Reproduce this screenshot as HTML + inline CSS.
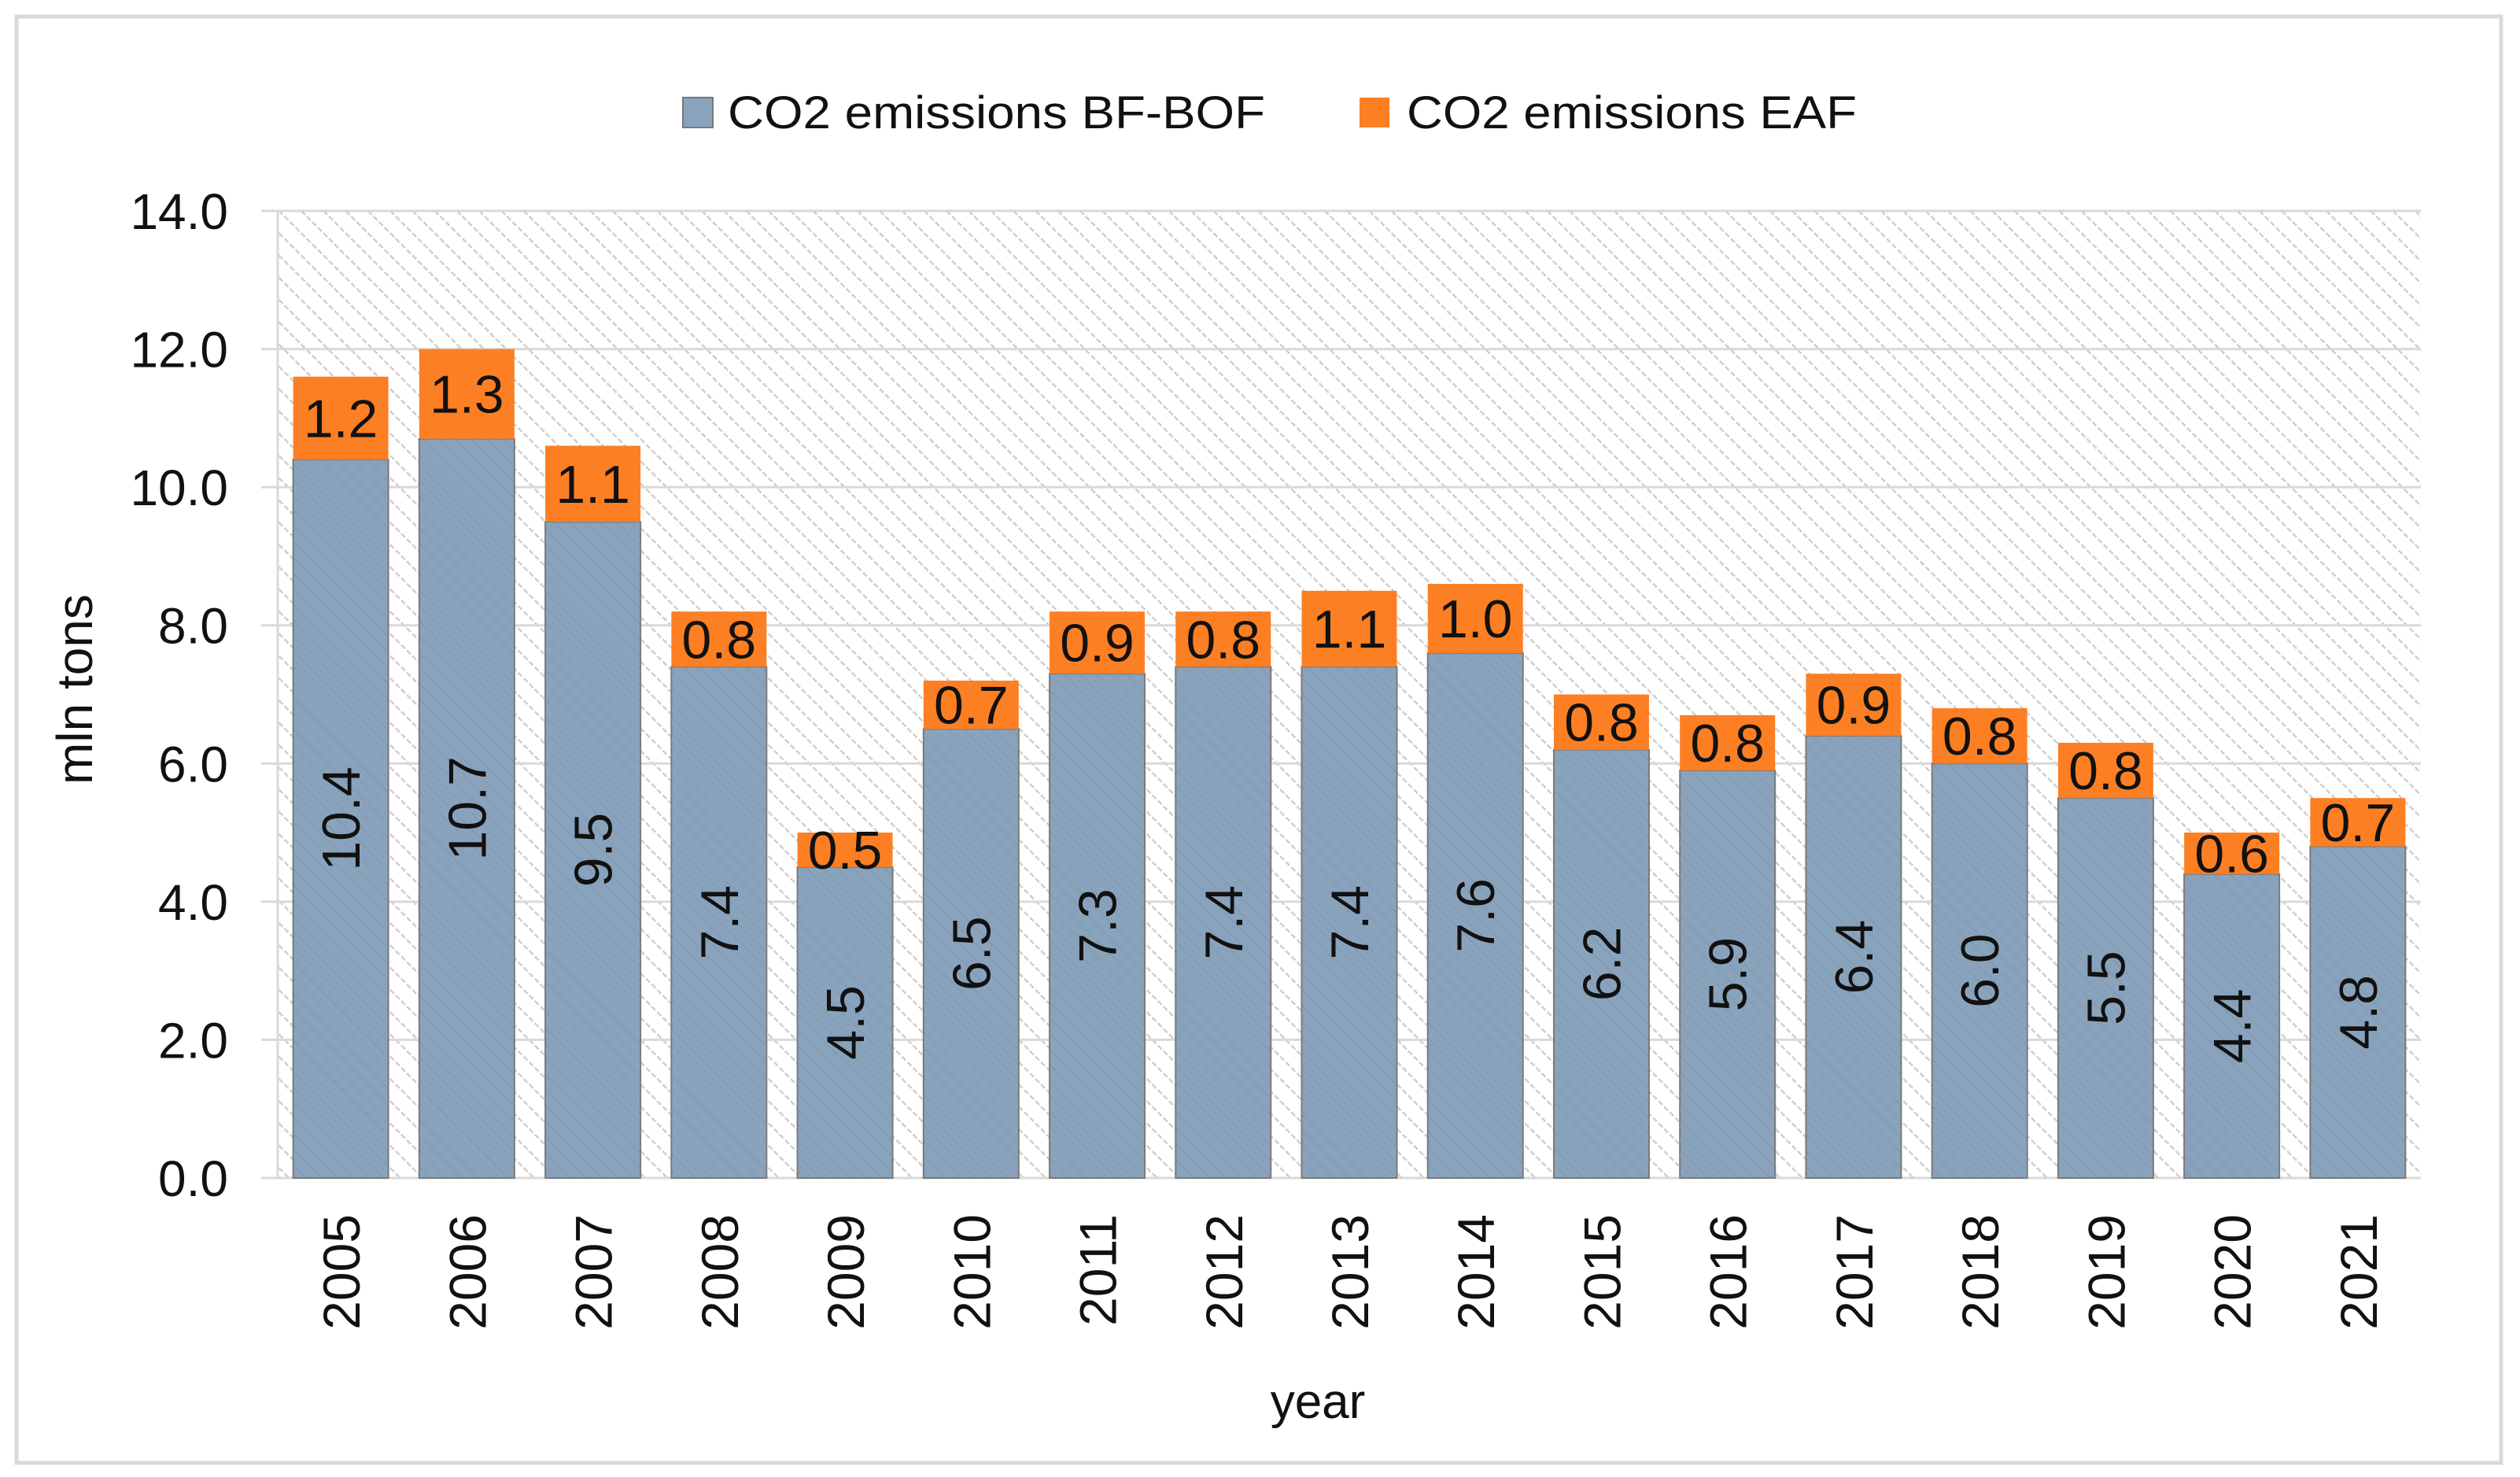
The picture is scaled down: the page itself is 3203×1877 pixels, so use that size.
<!DOCTYPE html>
<html><head><meta charset="utf-8"><style>
html,body{margin:0;padding:0;background:#fff}
svg{display:block}
text{font-family:"Liberation Sans",sans-serif;fill:#111}
</style></head><body>
<svg id="chart" width="3203" height="1877" viewBox="0 0 3203 1877" xmlns="http://www.w3.org/2000/svg">
<defs>
<pattern id="hatch" patternUnits="userSpaceOnUse" width="20" height="20" patternTransform="rotate(-45)">
<line x1="0" y1="0" x2="0" y2="20" stroke="#cfcfcf" stroke-width="5" stroke-dasharray="7 3"/>
</pattern>
<pattern id="bhatch" patternUnits="userSpaceOnUse" width="14" height="14" patternTransform="rotate(-45)">
<rect width="14" height="14" fill="#8aa3bc"/>
<line x1="0" y1="0" x2="0" y2="14" stroke="#8199b3" stroke-width="3"/>
</pattern>
</defs>
<rect x="21" y="21" width="3158" height="1838" fill="#fff" stroke="#d9d9d9" stroke-width="5"/>
<rect x="353" y="268" width="2724" height="1229" fill="url(#hatch)"/>
<line x1="353" y1="268" x2="353" y2="1497" stroke="#d9d9d9" stroke-width="3"/>
<g id="grid"></g>
<g id="bars"></g>
<g id="labels"></g>
<g>
<rect x="868" y="124" width="38" height="38" fill="#8aa3bc" stroke="#777" stroke-width="2"/>
<text x="925" y="163" font-size="58" textLength="683" lengthAdjust="spacingAndGlyphs">CO2 emissions BF-BOF</text>
<rect x="1728" y="124" width="38" height="38" fill="#fd7f23"/>
<text x="1788" y="163" font-size="58" textLength="572" lengthAdjust="spacingAndGlyphs">CO2 emissions EAF</text>
</g>
<text transform="translate(117,876) rotate(-90)" text-anchor="middle" font-size="64">mln tons</text>
<text x="1675" y="1802" text-anchor="middle" font-size="62">year</text>
</svg>
<script>
const years=["2005","2006","2007","2008","2009","2010","2011","2012","2013","2014","2015","2016","2017","2018","2019","2020","2021"];
const bofValues=[10.4,10.7,9.5,7.4,4.5,6.5,7.3,7.4,7.4,7.6,6.2,5.9,6.4,6.0,5.5,4.4,4.8];
const eafValues=[1.2,1.3,1.1,0.8,0.5,0.7,0.9,0.8,1.1,1.0,0.8,0.8,0.9,0.8,0.8,0.6,0.7];
const yTicks=[0,2,4,6,8,10,12,14];
const NS="http://www.w3.org/2000/svg";
const X0=353,X1=3077,Y0=1497,Y1=268,YMAX=14;
const band=(X1-X0)/years.length, bw=121;
function y(v){return Y0-(v/YMAX)*(Y0-Y1);}
function xc(i){return X0+band*(i+0.5);}
function mk(tag,attrs,parent){const e=document.createElementNS(NS,tag);for(const k in attrs)e.setAttribute(k,attrs[k]);parent.appendChild(e);return e;}
const grid=document.getElementById('grid'),bars=document.getElementById('bars'),labels=document.getElementById('labels');
yTicks.forEach(t=>{
  const l=mk('line',{x1:332,x2:X1,y1:y(t),y2:y(t),stroke:'#d9d9d9','stroke-width':3},grid);
  
  
  const tx=mk('text',{x:290,y:y(t)+23,'text-anchor':'end','font-size':64},labels);
  tx.textContent=t.toFixed(1);
  
  
});
years.forEach((yr,i)=>{
  const cx=xc(i),b=bofValues[i],e=eafValues[i];
  const r1=mk('rect',{x:cx-bw/2,y:y(b),width:bw,height:Y0-y(b),fill:'url(#bhatch)',stroke:'#7a7a7a','stroke-width':2},bars);
  
  
  const r2=mk('rect',{x:cx-bw/2,y:y(b+e),width:bw,height:y(b)-y(b+e),fill:'#fd7f23'},bars);
  
  
  const my=(y(b)+Y0)/2;
  const t1=mk('text',{transform:`translate(${cx+24},${my}) rotate(-90)`,'text-anchor':'middle','font-size':68},labels);
  t1.textContent=b.toFixed(1);
  
  
  const t2=mk('text',{x:cx,y:(y(b)+y(b+e))/2+24,'text-anchor':'middle','font-size':68},labels);
  t2.textContent=e.toFixed(1);
  
  
  const t3=mk('text',{transform:`translate(${cx+24},1543) rotate(-90)`,'text-anchor':'end','font-size':66},labels);
  t3.textContent=yr;
  
  
});
</script>
</body></html>
